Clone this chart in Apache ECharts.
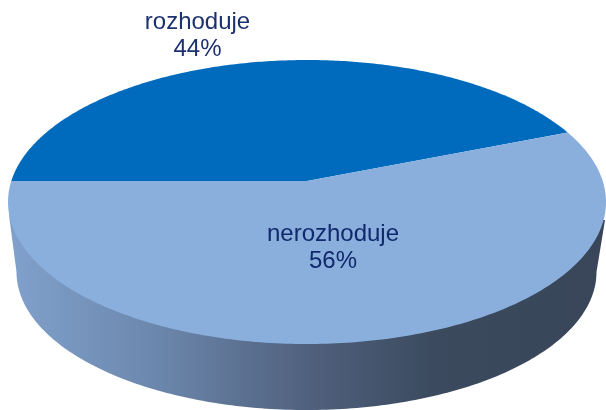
<!DOCTYPE html>
<html>
<head>
<meta charset="utf-8">
<style>html,body{margin:0;padding:0;background:#fff}#c{width:606px;height:410px}</style>
<script src="https://cdn.jsdelivr.net/npm/echarts@6/dist/echarts.min.js"></script>
</head>
<body>
<div id="c"></div>
<script>
const categories = ['rozhoduje', 'nerozhoduje'];
const shares = [44, 56];

const sliceColors = ['#006BBC', '#8BAFDD'];
const labelColors = ['#1C3270', '#10296C'];
const labelCenters = [[197.5, 36], [333, 248]];

// Tilted disc: the ellipse that bounds the top, and the hub seen off-centre by perspective.
const top_ = { cx: 307, cy: 202, rx: 299, ry: 142, hubRise: 21 };
const bottom_ = { cx: 306.5, cy: 272, rx: 290, ry: 138 };
const START_DEG = 180;
const total = shares.reduce((a, b) => a + b, 0);

function project(deg) {
  const t = deg * Math.PI / 180, u = Math.cos(t), v = Math.sin(t);
  const k = top_.hubRise / top_.ry;
  const w = 1 + k * v;
  const rx = top_.rx * Math.sqrt(1 - k * k);
  return [top_.cx + rx * u / w, top_.cy - (top_.ry * v + top_.hubRise) / w];
}
function arc(a, b, n) {
  const pts = [];
  for (let i = 0; i <= n; i++) pts.push(project(a + (b - a) * i / n));
  return pts;
}
function wallPoints() {
  const pts = [[9, 215]];
  for (let i = 0; i <= 180; i++) {
    const t = Math.PI * (1 - i / 180);
    pts.push([bottom_.cx + bottom_.rx * Math.cos(t), bottom_.cy + bottom_.ry * Math.sin(t)]);
  }
  pts.push([605, 220]);
  return pts;
}
const wallGradient = new echarts.graphic.LinearGradient(16, 0, 597, 0, [
  { offset: 0, color: '#7FA0CB' },
  { offset: 0.25, color: '#6B86AB' },
  { offset: 0.5, color: '#50617E' },
  { offset: 0.72, color: '#3B4A5E' },
  { offset: 1, color: '#394659' }
], true);

function renderItem(params, api) {
  const i = params.dataIndex;
  let before = 0;
  for (let j = 0; j < i; j++) before += shares[j];
  const a0 = START_DEG - 360 * before / total;
  const a1 = a0 - 360 * api.value(0) / total;
  const hub = [top_.cx, top_.cy - top_.hubRise];
  const children = [];
  if (i === 1) {
    children.push({ type: 'polygon', shape: { points: wallPoints() }, style: { fill: wallGradient } });
  }
  children.push({
    type: 'polygon',
    shape: { points: [hub].concat(arc(a0, a1, 240)) },
    style: { fill: sliceColors[i] }
  });
  children.push({
    type: 'text',
    x: labelCenters[i][0], y: labelCenters[i][1],
    z2: 10,
    style: {
      text: categories[i] + '\n' + api.value(0) + '%',
      fill: labelColors[i],
      font: '24px "Liberation Sans", Arial, sans-serif',
      lineHeight: 27,
      align: 'center',
      verticalAlign: 'middle'
    }
  });
  return { type: 'group', children };
}

const chart = echarts.init(document.getElementById('c'), null, { renderer: 'canvas' });
chart.setOption({
  animation: false,
  backgroundColor: '#fff',
  series: [{
    type: 'custom',
    coordinateSystem: 'none',
    renderItem,
    silent: true,
    data: shares.map((v, i) => ({ name: categories[i], value: [v] }))
  }]
});
</script>
</body>
</html>
